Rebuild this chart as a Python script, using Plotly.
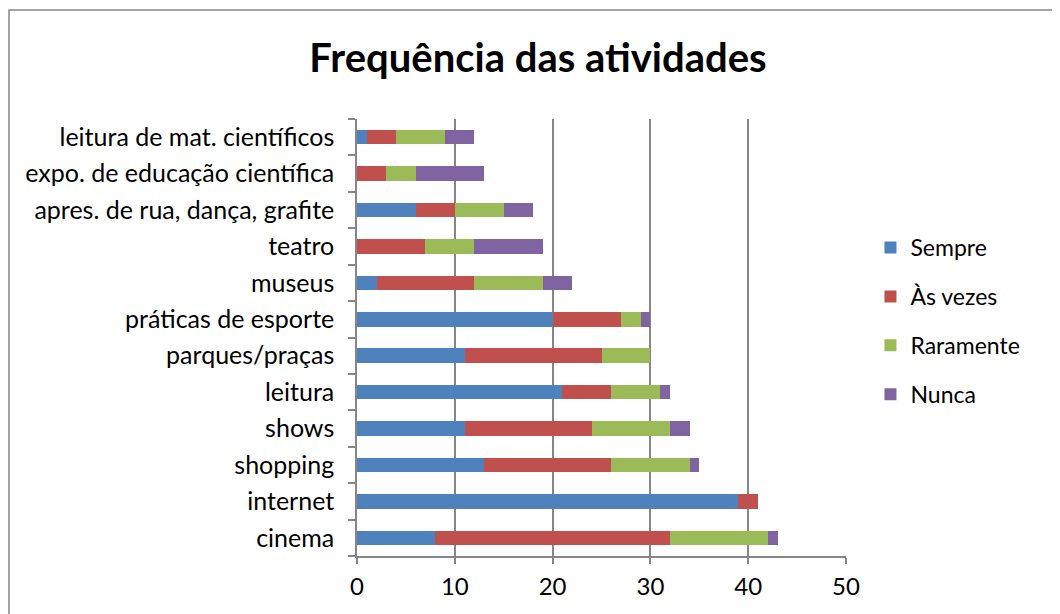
import plotly.graph_objects as go

atividades = ['cinema', 'internet', 'shopping', 'shows', 'leitura', 'parques/praças',
              'práticas de esporte', 'museus', 'teatro', 'apres. de rua, dança, grafite',
              'expo. de educação científica', 'leitura de mat. científicos']

sempre = [8, 39, 13, 11, 21, 11, 20, 2, 0, 6, 0, 1]
as_vezes = [24, 2, 13, 13, 5, 14, 7, 10, 7, 4, 3, 3]
raramente = [10, 0, 8, 8, 5, 5, 2, 7, 5, 5, 3, 5]
nunca = [1, 0, 1, 2, 1, 0, 1, 3, 7, 3, 7, 3]

series = [('Sempre', sempre, '#4F81BD'),
          ('Às vezes', as_vezes, '#C0504D'),
          ('Raramente', raramente, '#9BBB59'),
          ('Nunca', nunca, '#8064A2')]

fonte = 'Lato'
cinza = '#868686'

fig = go.Figure()
for nome, valores, cor in series:
    fig.add_trace(go.Bar(y=atividades, x=valores, name=nome, orientation='h',
                         legendgroup=nome,
                         marker=dict(color=cor, line=dict(width=0))))

# a página é deslocada ~7px pela margem do body
fig.update_layout(
    barmode='stack', bargap=0.6,
    width=1060, height=614,
    margin=dict(l=349, r=222, t=111, b=66),
    paper_bgcolor='white', plot_bgcolor='white',
    font=dict(family=fonte, size=24, color='black'),
    title=dict(text='<b>Frequência das atividades</b>', x=0.5, xanchor='center',
               xref='container', y=1 - 50 / 614, yanchor='middle',
               font=dict(family=fonte, size=40, color='black')),
    legend=dict(x=1.05, y=0.755, xanchor='left', yanchor='top',
                font=dict(family=fonte, size=23), tracegroupgap=16,
                itemwidth=30, traceorder='grouped'),
    showlegend=True,
)

fig.update_xaxes(range=[0, 50], dtick=10, showgrid=True, gridcolor=cinza, gridwidth=1.5,
                 showline=True, linecolor=cinza, linewidth=1.5,
                 ticks='outside', ticklen=6, tickcolor=cinza, tickwidth=1.5,
                 zeroline=False, tickfont=dict(size=24), ticklabelstandoff=2)
fig.update_yaxes(showline=True, linecolor=cinza, linewidth=1.5,
                 ticks='outside', ticklen=7, tickcolor=cinza, tickwidth=1.5,
                 tickson='boundaries', showgrid=False, tickfont=dict(size=25),
                 ticklabelstandoff=16)

fig.add_shape(type='rect', xref='paper', yref='paper',
              x0=(1 - 349) / 489, x1=1.45, y0=-0.3, y1=1 + (111 - 2) / 437,
              line=dict(color=cinza, width=1.5), layer='below')

fig.write_html('out.html')
